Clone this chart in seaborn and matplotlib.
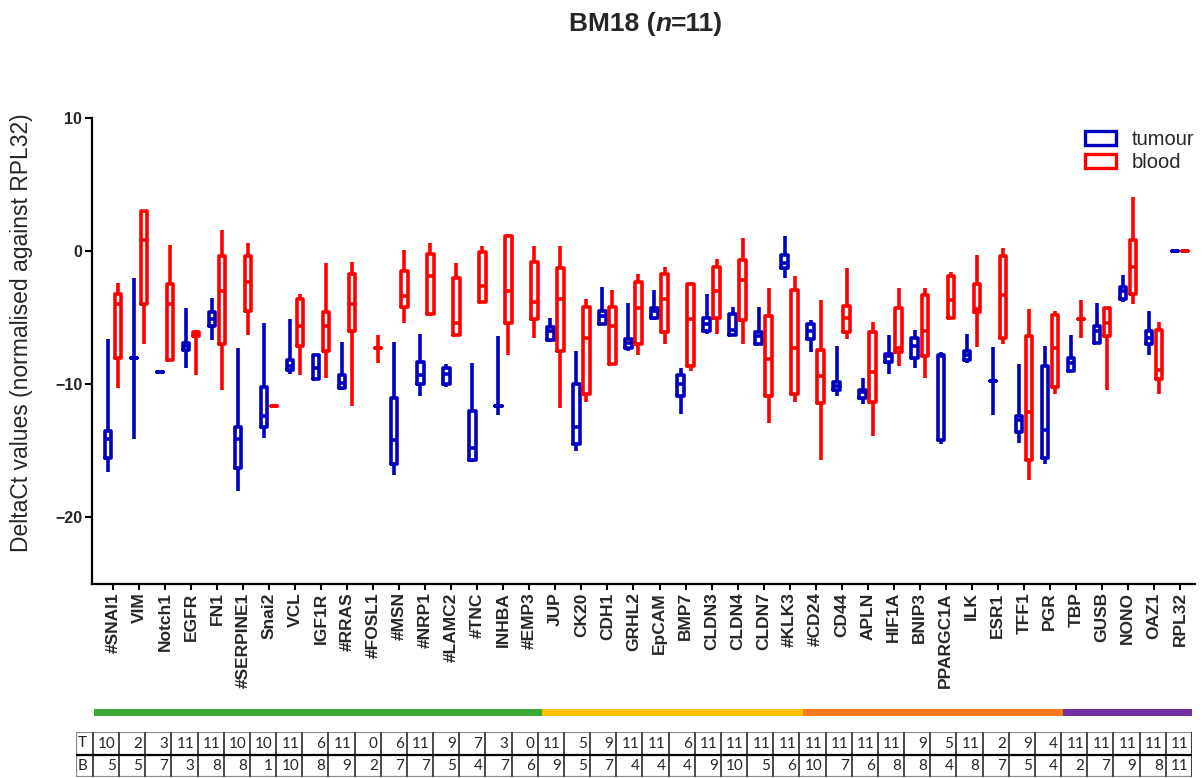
import numpy as np
import pandas as pd
import matplotlib
matplotlib.use("Agg")
import matplotlib.pyplot as plt
import seaborn as sns
from matplotlib.patches import Patch, Rectangle

# ---------------- data ----------------
genes = ["#SNAI1", "VIM", "Notch1", "EGFR", "FN1", "#SERPINE1", "Snai2", "VCL", "IGF1R", "#RRAS",
         "#FOSL1", "#MSN", "#NRP1", "#LAMC2", "#TNC", "INHBA", "#EMP3",
         "JUP", "CK20", "CDH1", "GRHL2", "EpCAM", "BMP7", "CLDN3", "CLDN4", "CLDN7", "#KLK3",
         "#CD24", "CD44", "APLN", "HIF1A", "BNIP3", "PPARGC1A", "ILK", "ESR1", "TFF1", "PGR",
         "TBP", "GUSB", "NONO", "OAZ1", "RPL32"]

group_names = ["EMT", "MET", "other", "reference"]
group_sizes = [17, 10, 10, 5]
group_colors = ["#3aaa35", "#ffc000", "#fb7a1e", "#7030a0"]

tumour_n = [10, 2, 3, 11, 11, 10, 10, 11, 6, 11, 0, 6, 11, 9, 7, 3, 0,
            11, 5, 9, 11, 11, 6, 11, 11, 11, 11,
            11, 11, 11, 11, 9, 5, 11, 2, 9, 4,
            11, 11, 11, 11, 11]
blood_n = [5, 5, 7, 3, 8, 8, 1, 10, 8, 9, 2, 7, 7, 5, 4, 7, 6,
           9, 5, 7, 4, 4, 4, 9, 10, 5, 6,
           10, 7, 6, 8, 8, 4, 8, 7, 5, 4,
           2, 7, 9, 8, 11]

N = None
tumour_min = [-16.6, -14.1, -9.2, -8.8, -6.7, -18.0, -14.0, -9.2, -9.6, -10.4, N, -16.8, -10.9, -10.2, -15.8, -12.3, N,
              -6.8, -15.0, -5.5, -7.5, -5.2, -12.2, -6.2, -6.4, -7.0, -2.0,
              -7.6, -10.9, -11.5, -9.2, -8.8, -14.5, -8.4, -12.3, -14.4, -16.0,
              -9.1, -7.0, -3.8, -7.8, 0.0]
tumour_q1 = [-15.5, -8.0, -9.1, -7.4, -5.6, -16.3, -13.2, -8.9, -9.6, -10.3, N, -16.0, -10.0, -10.0, -15.7, -11.6, N,
             -6.7, -14.5, -5.5, -7.3, -5.0, -10.9, -6.0, -6.3, -7.0, -1.3,
             -6.6, -10.4, -11.0, -8.3, -8.0, -14.2, -8.2, -9.75, -13.6, -15.5,
             -9.0, -6.9, -3.6, -7.0, 0.0]
tumour_med = [-14.1, -8.0, -9.1, -7.1, -5.1, -14.1, -12.4, -8.6, -8.8, -9.9, N, -14.2, -9.3, -9.2, -14.8, -11.6, N,
              -6.0, -13.2, -4.9, -6.9, -4.5, -10.0, -5.5, -5.9, -6.4, -0.9,
              -6.0, -10.1, -10.6, -7.9, -7.1, -7.9, -7.8, -9.75, -12.7, -13.4,
              -8.4, -6.0, -3.0, -6.5, 0.0]
tumour_q3 = [-13.5, -8.0, -9.1, -6.9, -4.6, -13.2, -10.2, -8.2, -7.8, -9.3, N, -11.0, -8.3, -8.8, -12.0, -11.6, N,
             -5.7, -10.0, -4.5, -6.6, -4.3, -9.3, -5.0, -4.7, -6.1, -0.3,
             -5.5, -9.8, -10.4, -7.7, -6.5, -7.8, -7.5, -9.75, -12.4, -8.6,
             -8.0, -5.6, -2.7, -6.0, 0.0]
tumour_max = [-6.6, -2.0, -9.0, -4.3, -3.5, -7.3, -5.4, -5.1, -7.8, -6.8, N, -6.8, -6.2, -8.5, -8.4, -6.4, N,
              -5.0, -7.5, -2.7, -3.9, -2.9, -8.8, -3.2, -4.2, -4.2, 1.1,
              -5.2, -7.1, -9.5, -6.3, -5.9, -7.6, -6.2, -7.2, -8.5, -7.1,
              -6.3, -3.9, -1.8, -4.5, 0.0]

blood_min = [-10.3, -7.0, -8.2, -9.3, -10.4, -6.3, -11.6, -9.3, -9.5, -11.6, -8.4, -5.4, -4.9, -6.4, -3.8, -7.8, -6.5,
             -11.8, -11.3, -8.5, -7.8, -7.0, -9.0, -6.2, -7.0, -12.9, -11.3,
             -15.7, -6.6, -13.9, -8.6, -9.5, -5.1, -7.2, -7.0, -17.2, -10.7,
             -6.5, -10.4, -4.0, -10.7, 0.0]
blood_q1 = [-8.0, -4.0, -8.2, -6.4, -7.0, -4.5, -11.6, -7.1, -7.5, -6.0, -7.3, -4.2, -4.7, -6.3, -3.8, -5.4, -5.1,
            -7.5, -10.7, -8.5, -7.0, -6.1, -8.6, -5.0, -5.2, -10.9, -10.7,
            -11.4, -6.1, -11.3, -7.6, -7.9, -5.0, -4.6, -6.5, -15.7, -10.2,
            -5.1, -6.4, -3.2, -9.6, 0.0]
blood_med = [-4.0, 0.8, -4.0, -6.3, -3.0, -2.3, -11.6, -5.6, -5.6, -4.0, -7.3, -3.4, -1.9, -5.4, -2.6, -3.0, -3.8,
             -3.6, -6.5, -5.6, -4.3, -3.6, -5.1, -3.0, -2.2, -8.1, -7.3,
             -9.4, -5.0, -9.1, -7.3, -6.0, -3.7, -4.35, -3.3, -12.1, -7.3,
             -5.1, -5.4, -1.2, -8.9, 0.0]
blood_q3 = [-3.2, 3.0, -2.5, -6.1, -0.4, -0.4, -11.6, -3.6, -4.6, -1.7, -7.3, -1.5, -0.2, -2.0, -0.05, 1.1, -0.8,
            -1.3, -4.2, -4.2, -2.3, -1.7, -2.5, -1.2, -0.7, -4.9, -2.9,
            -7.4, -4.1, -6.1, -4.3, -3.3, -1.9, -2.5, -0.4, -6.4, -4.8,
            -5.1, -4.3, 0.8, -5.9, 0.0]
blood_max = [-2.4, 3.06, 0.45, -5.9, 1.6, 0.6, -11.6, -3.2, -0.9, -0.8, -6.3, 0.1, 0.6, -0.9, 0.4, 1.3, 0.4,
             0.4, -3.6, -2.9, -1.7, -1.2, -2.3, -0.6, 0.95, -2.8, -1.9,
             -3.7, -1.3, -5.3, -2.8, -2.8, -1.6, -0.3, 0.2, -4.35, -4.5,
             -3.7, -4.3, 4.1, -5.3, 0.0]

BLUE = "#0000c0"
RED = "#ff0000"

# ---------------- long table (five-number summaries) ----------------
rows = []
for i, g in enumerate(genes):
    for grp, stats in (("tumour", (tumour_min[i], tumour_q1[i], tumour_med[i], tumour_q3[i], tumour_max[i])),
                       ("blood", (blood_min[i], blood_q1[i], blood_med[i], blood_q3[i], blood_max[i]))):
        if stats[0] is None:
            continue
        for v in stats:
            rows.append({"gene": g, "group": grp, "value": v})
df = pd.DataFrame(rows)

# ---------------- figure ----------------
sns.set_style("ticks")
plt.rcParams['font.family'] = ['Liberation Sans', 'DejaVu Sans']

W, H = 1203, 778
fig = plt.figure(figsize=(W / 100, H / 100), dpi=100)
ax = fig.add_axes([92 / W, 1 - 584 / H, 1103 / W, 466 / H])

sns.boxplot(data=df, x="gene", y="value", hue="group", order=genes,
            hue_order=["tumour", "blood"], palette={"tumour": BLUE, "blood": RED},
            fill=False, width=0.77, gap=0.36, whis=(0, 100), linewidth=2.6,
            showcaps=False, legend=False, ax=ax)

XL = (-0.81, 41.58)
ax.set_xlim(*XL)
ax.set_ylim(-25, 10)
ax.set_yticks([-20, -10, 0, 10])
ax.set_xticks(range(len(genes)))
ax.set_xticklabels(genes, rotation=90, fontsize=12.5, fontweight='bold')
for lab in ax.get_yticklabels():
    lab.set_fontweight('bold')
ax.tick_params(axis='y', labelsize=11.5, length=5, width=1.5, pad=2, color='black')
ax.tick_params(axis='x', length=4, width=1.5, pad=2, color='black')
ax.set_xlabel("")
ax.set_ylabel("")
for s in ("top", "right"):
    ax.spines[s].set_visible(False)
for s in ("left", "bottom"):
    ax.spines[s].set_linewidth(1.6)
    ax.spines[s].set_color("black")

handles = [Patch(facecolor="white", edgecolor=BLUE, linewidth=2.4, label="tumour"),
           Patch(facecolor="white", edgecolor=RED, linewidth=2.4, label="blood")]
ax.legend(handles=handles, loc="upper left", bbox_to_anchor=(1085 / W, 1 - 130 / H),
          bbox_transform=fig.transFigure, frameon=False, fontsize=14.5,
          handlelength=1.55, handleheight=0.75, handletextpad=0.75, labelspacing=0.2,
          borderpad=0, borderaxespad=0)

fig.text(22 / W, 1 - 333 / H, "DeltaCt values (normalised against RPL32)", rotation=90,
         ha="center", va="center", fontsize=16.5)

# title with italic n
r = fig.canvas.get_renderer()
parts = [("BM18 (", "normal"), ("n", "italic"), ("=11)", "normal")]
tobjs, widths = [], []
for s, st in parts:
    t = fig.text(0, 1 - 24 / H, s, fontsize=19, fontweight="bold", style=st, va="center", ha="left")
    widths.append(t.get_window_extent(r).width)
    tobjs.append(t)
x0 = 646 - sum(widths) / 2
for t, w in zip(tobjs, widths):
    t.set_x(x0 / W)
    x0 += w

# ---------------- group colour bar ----------------
axb = fig.add_axes([92 / W, 1 - 716 / H, 1103 / W, 7 / H])
axb.set_xlim(*XL)
axb.set_ylim(0, 1)
axb.axis("off")
bounds = np.concatenate([[-0.5], np.cumsum(group_sizes) - 0.5])
bounds[0] = -0.73
bounds[-1] = 41.47
for k, c in enumerate(group_colors):
    axb.add_patch(Rectangle((bounds[k], 0), bounds[k + 1] - bounds[k], 1, color=c, lw=0))

# ---------------- count table ----------------
axt = fig.add_axes([76 / W, 1 - 777 / H, (1192 - 76) / W, 45 / H])
c0 = -17 / 26.17
axt.set_xlim(c0, len(genes))
axt.set_ylim(2, 0)
axt.axis("off")
for i in range(len(genes) + 1):
    axt.plot([i, i], [0, 2], color="#3a3a3a", lw=1.3, solid_capstyle="butt")
axt.plot([c0, len(genes)], [1, 1], color="black", lw=1.6)
axt.add_patch(Rectangle((c0, 0), len(genes) - c0, 2, fill=False, ec="#8a8a8a", lw=1.6))
tfont = ['Lato', 'DejaVu Sans']
axt.text(c0 + 0.08, 0.5, "T", ha="left", va="center", fontsize=11, family=tfont)
axt.text(c0 + 0.08, 1.5, "B", ha="left", va="center", fontsize=11, family=tfont)
for i in range(len(genes)):
    axt.text(i + 0.88, 0.52, str(tumour_n[i]), ha="right", va="center", fontsize=11, family=tfont)
    axt.text(i + 0.88, 1.52, str(blood_n[i]), ha="right", va="center", fontsize=11, family=tfont)

fig.savefig("out.png", dpi=100)
